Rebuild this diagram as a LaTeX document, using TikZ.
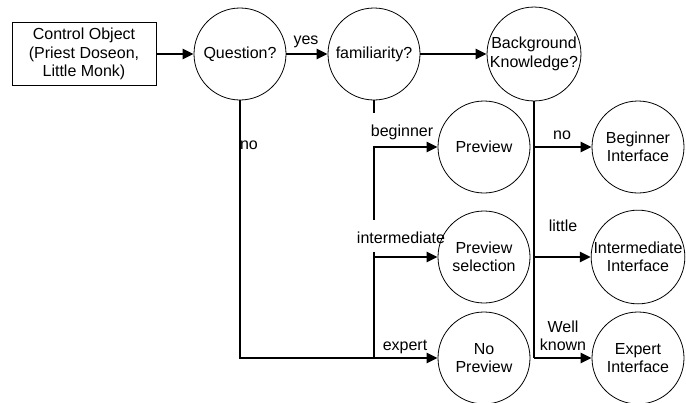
\documentclass[tikz,border=0pt]{standalone}
\usepackage{fontspec}
\setmainfont{Liberation Sans}
\usetikzlibrary{arrows.meta}
\begin{document}
\begin{tikzpicture}[x=1pt,y=-1pt,
  every node/.style={font=\fontsize{16}{18.5}\selectfont},
  state/.style={circle,draw,line width=0.8pt,minimum size=92pt,inner sep=0pt,align=center},
  startbox/.style={rectangle,draw,line width=0.8pt,minimum width=144pt,minimum height=63pt,inner sep=0pt,align=center},
  link/.style={line width=2.5pt},
  flow/.style={link,-{Triangle[length=11pt,width=10pt]}},
  tag/.style={inner sep=1pt,align=center}]
\useasboundingbox (0,0) rectangle (686,402);

% nodes
\node[startbox] (ctrl) at (84,54) {Control Object\\(Priest Doseon,\\Little Monk)};
\node[state] (q)  at (240,54) {Question?};
\node[state] (fam) at (374,54) {familiarity?};
\node[state] (bk) at (534,54) {Background\\Knowledge?};
\node[state] (pv) at (484,147) {Preview};
\node[state] (ps) at (484,257) {Preview\\selection};
\node[state] (np) at (484,358) {No\\Preview};
\node[state] (bi) at (638,147) {Beginner\\Interface};
\node[state] (ii) at (638,257) {Intermediate\\Interface};
\node[state] (ei) at (638,358) {Expert\\Interface};

% junction points
\coordinate (qc) at (240,358);
\coordinate (fstub) at (374,113);
\coordinate (fb) at (374,147);
\coordinate (fbe) at (374,220);
\coordinate (fi) at (374,252);
\coordinate (fic) at (374,257);
\coordinate (fe) at (374,358);
\coordinate (bb) at (534,147);
\coordinate (bi2) at (534,257);
\coordinate (be) at (534,358);

% top row
\draw[flow] (ctrl.east) -- (q.west);
\draw[flow] (q.east) -- (fam.west);
\draw[flow] (fam.east) -- (bk.west);

% question "no" branch
\draw[flow] (q.south) -- (qc) -- (np.west);

% familiarity branches
\draw[link] (fam.south) -- (fstub);
\draw[flow] (fbe) -- (fb) -- (pv.west);
\draw[link] (fi) -- (fe);
\draw[flow] (fic) -- (ps.west);

% background knowledge branches
\draw[link] (bk.south) -- (be);
\draw[flow] (bb) -- (bi.west);
\draw[flow] (bi2) -- (ii.west);
\draw[flow] (be) -- (ei.west);

% labels
\node[tag] (lyes) at (306,42) {yes};
\node[tag] (lno1) at (249,145) {no};
\node[tag] (lbeg) at (402,132) {beginner};
\node[tag] (lint) at (401,238) {intermediate};
\node[tag] (lexp) at (405,347) {expert};
\node[tag] (lno2) at (562,135) {no};
\node[tag] (llit) at (563,226) {little};
\node[tag] (lwk)  at (563,336) {Well\\known};
\end{tikzpicture}
\end{document}
